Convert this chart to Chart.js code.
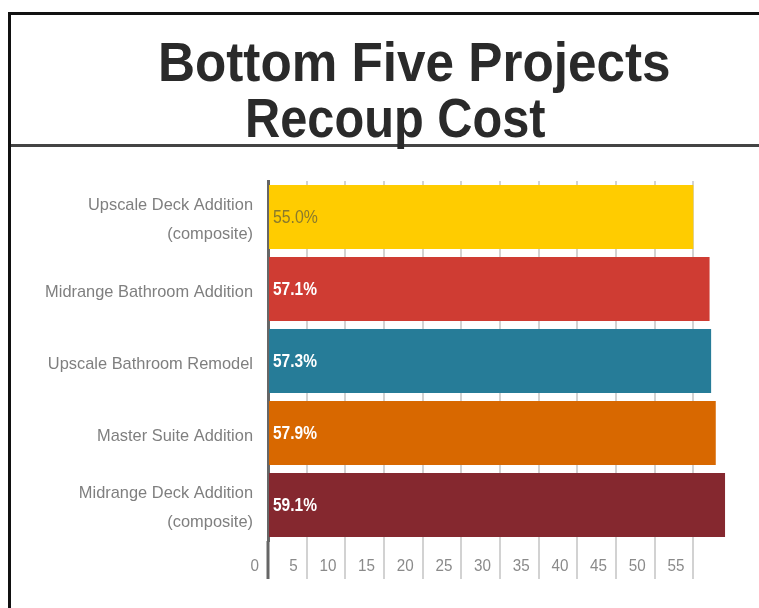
<!DOCTYPE html>
<html>
<head>
<meta charset="utf-8">
<script src="https://cdn.jsdelivr.net/npm/chart.js@4.4.1/dist/chart.umd.min.js"></script>
<style>
  html, body { margin: 0; padding: 0; background: #fff; }
  body { width: 759px; height: 608px; position: relative; overflow: hidden; }
  #frame { position: absolute; left: 8px; top: 12px; width: 800px; height: 700px; border-left: 3px solid #111; border-top: 3px solid #111; box-sizing: border-box; }
  #divider { position: absolute; left: 11px; top: 144px; width: 760px; height: 3px; background: #444; }
  .t { position: absolute; font-family: "Liberation Sans", Arial, sans-serif; font-weight: bold; color: #2a2a2a; font-size: 56px; line-height: 56px; white-space: nowrap; transform-origin: 0 0; }
  #t1 { left: 158px; top: 34px; transform: scaleX(0.915); }
  #t2 { left: 245px; top: 90px; transform: scaleX(0.87); }
  #wrap { position: absolute; left: 12px; top: 148px; width: 747px; height: 460px; }
</style>
</head>
<body>
<div id="frame"></div>
<div id="divider"></div>
<div class="t" id="t1">Bottom Five Projects</div>
<div class="t" id="t2">Recoup Cost</div>
<div id="wrap"><canvas id="c" width="747" height="460"></canvas></div>
<script>
const categories = [
  ["Upscale Deck Addition", "(composite)"],
  ["Midrange Bathroom Addition"],
  ["Upscale Bathroom Remodel"],
  ["Master Suite Addition"],
  ["Midrange Deck Addition", "(composite)"]
];
const values = [55.0, 57.1, 57.3, 57.9, 59.1];
const valueLabels = ["55.0%", "57.1%", "57.3%", "57.9%", "59.1%"];
const barColors = ["#FFCC00", "#CF3C33", "#267C98", "#D86800", "#85282F"];
const labelColors = ["#8a7a2c", "#ffffff", "#ffffff", "#ffffff", "#ffffff"];
const labelWeights = ["normal", "bold", "bold", "bold", "bold"];
const xTicks = [0, 5, 10, 15, 20, 25, 30, 35, 40, 45, 50, 55];

const FONT = '"Liberation Sans", Arial, sans-serif';

function condensedText(ctx, text, x, y, align, sx) {
  ctx.save();
  ctx.translate(x, y);
  ctx.scale(sx, 1);
  ctx.textAlign = align;
  ctx.fillText(text, 0, 0);
  ctx.restore();
}

const textPlugin = {
  id: 'condensedText',
  afterDatasetsDraw(chart) {
    const ctx = chart.ctx;
    const meta = chart.getDatasetMeta(0);
    const xs = chart.scales.x, ys = chart.scales.y;
    ctx.save();
    ctx.textBaseline = 'middle';
    // value labels inside bars
    meta.data.forEach((bar, i) => {
      ctx.font = labelWeights[i] + ' 18px ' + FONT;
      ctx.fillStyle = labelColors[i];
      condensedText(ctx, valueLabels[i], bar.base + 4, bar.y + 1, 'left', labelWeights[i] === 'bold' ? 0.86 : 0.88);
    });
    // category labels
    ctx.font = '17px ' + FONT;
    ctx.fillStyle = '#7f7f7f';
    categories.forEach((lines, i) => {
      const cy = ys.getPixelForValue(i);
      const lh = 29;
      const start = cy - (lines.length - 1) * lh / 2 + 3;
      lines.forEach((ln, k) => {
        condensedText(ctx, ln, ys.right - 15, start + k * lh, 'right', 0.965);
      });
    });
    // x tick labels
    ctx.font = '16px ' + FONT;
    ctx.fillStyle = '#8a8a8a';
    xTicks.forEach((v) => {
      const px = xs.getPixelForValue(v);
      condensedText(ctx, String(v), px - (v === 0 ? 9 : 9), xs.top + 26, 'right', 0.95);
    });
    ctx.restore();
  }
};

new Chart(document.getElementById('c'), {
  type: 'bar',
  data: {
    labels: categories.map(l => l.join(' ')),
    datasets: [{
      data: values,
      backgroundColor: barColors,
      borderWidth: 0,
      categoryPercentage: 1.0,
      barPercentage: 0.89
    }]
  },
  options: {
    indexAxis: 'y',
    responsive: false,
    animation: false,
    layout: { padding: { top: 33, right: 27, bottom: 29, left: 0 } },
    plugins: { legend: { display: false }, tooltip: { enabled: false }, title: { display: false } },
    scales: {
      x: {
        min: 0,
        max: 60,
        afterBuildTicks(scale) { scale.ticks = xTicks.map(v => ({ value: v })); },
        border: { display: false },
        grid: {
          drawOnChartArea: true,
          drawTicks: true,
          tickLength: 38,
          color: (c) => c.index === 0 ? 'rgba(0,0,0,0)' : '#d2d2d2',
          lineWidth: 2,
          tickColor: (c) => c.index === 0 ? '#666666' : '#d2d2d2',
          tickWidth: (c) => c.index === 0 ? 3 : 2
        },
        ticks: { display: false }
      },
      y: {
        afterFit(scale) { scale.width = 256; },
        border: { display: true, color: '#666666', width: 3 },
        grid: { display: false, drawTicks: false },
        ticks: { display: false }
      }
    }
  },
  plugins: [textPlugin]
});
</script>
</body>
</html>
